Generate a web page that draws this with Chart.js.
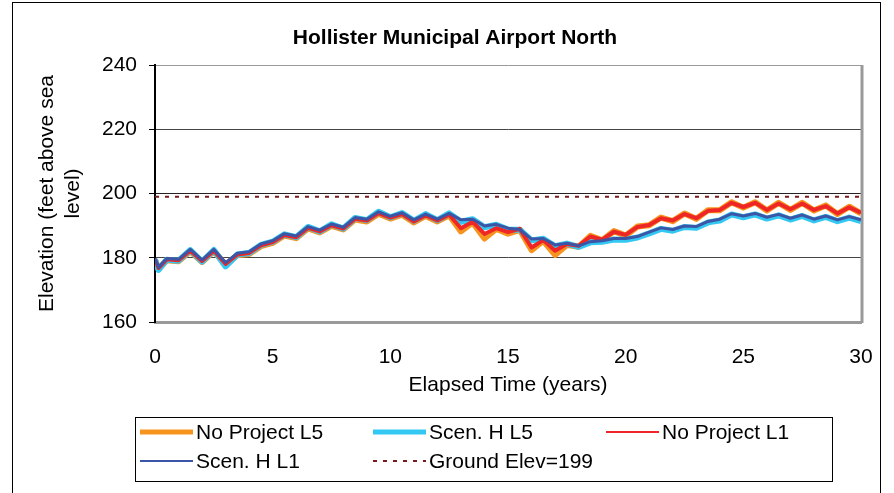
<!DOCTYPE html>
<html>
<head>
<meta charset="utf-8">
<script src="https://cdn.jsdelivr.net/npm/chart.js@4/dist/chart.umd.min.js"></script>
<style>
  body { margin: 0; background: #fff; }
  #wrap { position: relative; width: 894px; height: 493px; overflow: hidden; }
  #frame { position: absolute; left: 12px; top: 2px; width: 867px; height: 520px; border: 1px solid #000; pointer-events: none; }
  canvas { position: absolute; left: 0; top: 0; }
</style>
</head>
<body>
<div id="wrap">
  <canvas id="myChart" width="894" height="493"></canvas>
  <div id="frame"></div>
</div>
<script>
// elapsed time in years (x values shared by all series)
const years = [0, 0.15, 0.5, 1, 1.5, 2, 2.5, 3, 3.5, 4, 4.5, 5, 5.5, 6, 6.5, 7, 7.5, 8, 8.5, 9, 9.5,
  10, 10.5, 11, 11.5, 12, 12.5, 13, 13.5, 14, 14.5, 15, 15.5, 16, 16.5, 17, 17.5, 18, 18.5, 19, 19.5,
  20, 20.5, 21, 21.5, 22, 22.5, 23, 23.5, 24, 24.5, 25, 25.5, 26, 26.5, 27, 27.5, 28, 28.5, 29, 29.5, 30];

// elevations (feet above sea level)
const noProjectL5 = [179.3, 176.5, 179.2, 178.9, 182.0, 178.7, 182.0, 177.8, 180.8, 181.2, 183.6, 184.6, 186.9, 186.1, 189.1, 187.9, 189.9, 188.8, 191.9, 191.3, 193.7,
  192.2, 193.4, 191.0, 193.0, 191.3, 193.2, 188.2, 191.0, 186.0, 189.0, 187.5, 188.7, 182.4, 185.3, 180.9, 184.0, 183.4, 186.8, 185.4, 188.3,
  186.9, 189.7, 190.1, 192.5, 191.4, 193.8, 192.1, 194.8, 194.8, 197.3, 195.6, 197.3, 194.7, 197.1, 194.9, 197.1, 194.7, 196.3, 193.6, 195.9, 193.8];
const scenHL5 = [179.5, 176.2, 179.4, 179.1, 182.4, 178.8, 182.4, 177.3, 181.0, 181.5, 184.0, 185.0, 187.3, 186.4, 189.6, 188.2, 190.4, 189.1, 192.4, 191.7, 194.3,
  192.6, 193.9, 191.5, 193.6, 191.7, 193.8, 191.2, 192.0, 189.5, 190.3, 188.8, 188.7, 185.4, 185.9, 183.6, 184.4, 183.4, 184.8, 185.0, 185.7,
  185.6, 186.3, 187.6, 189.0, 188.4, 189.6, 189.3, 191.0, 191.6, 193.5, 192.6, 193.5, 192.2, 193.2, 191.9, 193.0, 191.6, 192.7, 191.4, 192.5, 191.4];
const noProjectL1 = [179.5, 176.8, 179.5, 179.2, 182.2, 179.0, 182.2, 178.1, 181.0, 181.5, 183.9, 184.9, 187.1, 186.4, 189.3, 188.2, 190.1, 189.1, 192.1, 191.6, 193.9,
  192.5, 193.6, 191.3, 193.2, 191.6, 193.4, 189.2, 191.2, 187.4, 189.2, 188.0, 189.0, 183.2, 185.5, 182.2, 184.3, 183.7, 186.6, 185.6, 188.1,
  187.1, 189.6, 190.2, 192.3, 191.6, 193.6, 192.3, 194.6, 194.9, 197.1, 195.8, 197.1, 194.9, 196.9, 195.1, 196.9, 194.9, 196.1, 193.8, 195.7, 194.0];
const scenHL1 = [179.8, 177.0, 179.8, 179.5, 182.6, 179.3, 182.6, 178.5, 181.4, 181.9, 184.3, 185.3, 187.5, 186.8, 189.7, 188.6, 190.5, 189.5, 192.5, 192.0, 194.3,
  192.9, 194.0, 191.8, 193.6, 192.0, 193.8, 191.8, 192.0, 189.9, 190.4, 189.2, 188.8, 185.8, 186.0, 184.0, 184.5, 183.7, 185.0, 185.3, 186.0,
  186.0, 186.6, 188.0, 189.3, 188.8, 189.9, 189.7, 191.3, 192.0, 193.7, 193.0, 193.8, 192.6, 193.5, 192.3, 193.3, 192.0, 193.0, 191.8, 192.8, 191.8];
const groundYears = [0, 30];
const groundElev = [199, 199];

const seriesNames = ["No Project L5", "Scen. H L5", "No Project L1", "Scen. H L1", "Ground Elev=199"];
const yTicks = [160, 180, 200, 220, 240];
const xTicks = [0, 5, 10, 15, 20, 25, 30];

const FONT = "'Liberation Sans', Arial, sans-serif";
const FS = 21;

// pair the x and y arrays into points for chart.js
function pts(xs, ys) {
    return xs.map((x, i) => ({ x: x, y: ys[i] }));
}

// title, plot frame and the boxed legend are drawn by hand like the excel original
const extras = {
    id: "extras",
    beforeDatasetsDraw(chart) {
        const ctx = chart.ctx;
        const a = chart.chartArea;
        ctx.save();
        ctx.strokeStyle = "#999";
        ctx.lineWidth = 3;
        ctx.beginPath();
        ctx.moveTo(a.right + 1, a.top);
        ctx.lineTo(a.right + 1, a.bottom + 1);
        ctx.stroke();
        ctx.restore();
    },
    afterDraw(chart) {
        const ctx = chart.ctx;
        ctx.save();
        // title
        ctx.fillStyle = "#000";
        ctx.font = "bold " + FS + "px " + FONT;
        ctx.textAlign = "center";
        ctx.textBaseline = "middle";
        ctx.fillText("Hollister Municipal Airport North", 455, 38);

        // legend box
        ctx.strokeStyle = "#000";
        ctx.lineWidth = 1;
        ctx.strokeRect(135.5, 417.5, 697, 64);
        const spots = [[140, 432], [373, 432], [606, 432], [140, 461], [373, 461]];
        ctx.font = FS + "px " + FONT;
        ctx.textAlign = "left";
        chart.data.datasets.forEach((ds, i) => {
            const [x, y] = spots[i];
            ctx.strokeStyle = ds.borderColor;
            ctx.lineWidth = ds.legendWidth;
            ctx.setLineDash(ds.borderDash || []);
            ctx.beginPath();
            ctx.moveTo(x, y);
            ctx.lineTo(x + 53, y);
            ctx.stroke();
            ctx.setLineDash([]);
            ctx.fillStyle = "#000";
            ctx.fillText(ds.label, x + 56, y + 1);
        });
        ctx.restore();
    }
};

const gridColors = { 160: "#999", 180: "#444", 200: "#222", 220: "#444", 240: "#999" };

const config = {
    type: "line",
    data: {
        datasets: [{
            label: seriesNames[0],
            data: pts(years, noProjectL5),
            borderColor: "#F7941D",
            borderWidth: 6,
            legendWidth: 5,
            order: 4
        },
        {
            label: seriesNames[1],
            data: pts(years, scenHL5),
            borderColor: "#33C8F2",
            borderWidth: 6,
            legendWidth: 5,
            order: 3
        },
        {
            label: seriesNames[2],
            data: pts(years, noProjectL1),
            borderColor: "#EE2626",
            borderWidth: 4,
            legendWidth: 2,
            order: 2
        },
        {
            label: seriesNames[3],
            data: pts(years, scenHL1),
            borderColor: "#3B56A6",
            borderWidth: 3,
            legendWidth: 2,
            order: 1
        },
        {
            label: seriesNames[4],
            data: pts(groundYears, groundElev),
            borderColor: "#7A1A1A",
            borderWidth: 2,
            borderDash: [4, 6],
            legendWidth: 2,
            order: 0
        }]
    },
    options: {
        responsive: false,
        animation: false,
        elements: {
            point: { radius: 0 },
            line: { tension: 0, fill: false, borderCapStyle: "butt", borderJoinStyle: "round" }
        },
        layout: { padding: { top: 65, right: 33, bottom: 0, left: 0 } },
        plugins: {
            legend: { display: false },
            title: { display: false },
            tooltip: { enabled: false }
        },
        scales: {
            x: {
                type: "linear",
                min: 0,
                max: 30,
                afterBuildTicks: (s) => { s.ticks = xTicks.map(v => ({ value: v })); },
                afterFit: (s) => { s.height = 171; },
                grid: { display: false },
                border: { display: true, color: "#999", width: 3 },
                ticks: { color: "#000", font: { size: FS, family: FONT }, padding: 15, maxRotation: 0 },
                title: {
                    display: true,
                    text: "Elapsed Time (years)",
                    color: "#000",
                    font: { size: FS, family: FONT },
                    padding: { top: 0, bottom: 95 }
                }
            },
            y: {
                min: 160,
                max: 240,
                afterBuildTicks: (s) => { s.ticks = yTicks.map(v => ({ value: v })); },
                afterFit: (s) => { s.width = 155; },
                grid: {
                    color: (c) => gridColors[c.tick ? c.tick.value : 0] || "#444",
                    tickColor: "#000",
                    tickLength: 6,
                    lineWidth: 1
                },
                border: { display: true, color: "#000", width: 2 },
                ticks: { color: "#000", font: { size: FS, family: FONT }, padding: 12 },
                title: {
                    display: true,
                    text: ["Elevation (feet above sea", "level)"],
                    color: "#000",
                    font: { size: FS, family: FONT },
                    padding: { top: 35, bottom: 0 }
                }
            }
        }
    },
    plugins: [extras]
};

const ctx = document.getElementById("myChart").getContext("2d");
const myChart = new Chart(ctx, config);
</script>
</body>
</html>
